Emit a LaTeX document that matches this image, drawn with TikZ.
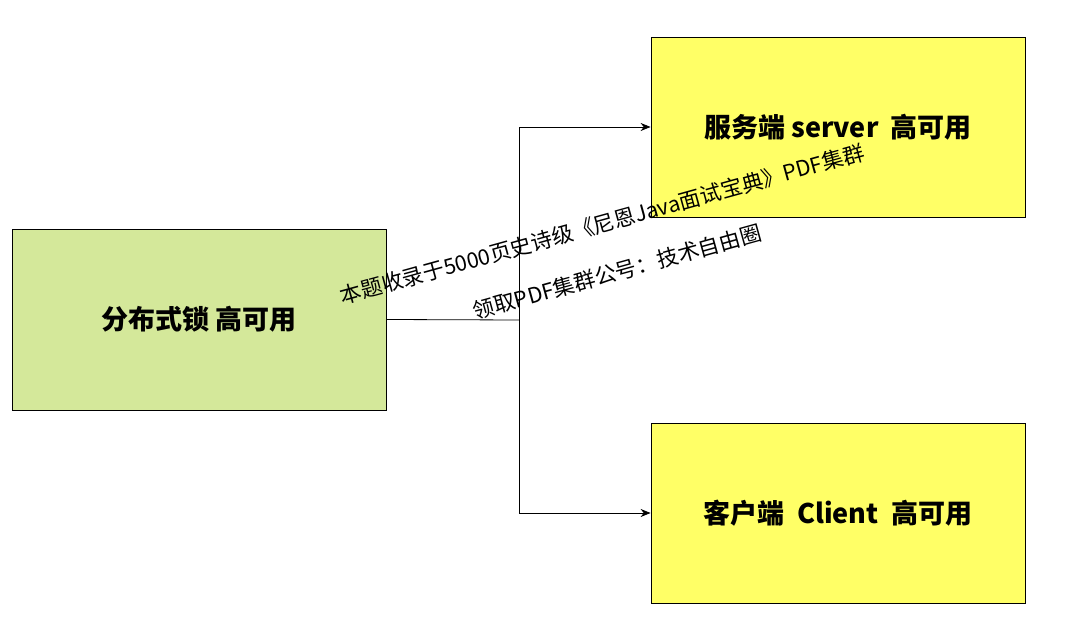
\documentclass[tikz,border=0pt]{standalone}
\usepackage{fontspec}
\setmainfont{Noto Sans CJK SC}
\usetikzlibrary{arrows.meta}
\begin{document}
\begin{tikzpicture}[x=1pt,y=-1pt,
 box/.style={draw=black,line width=0.8pt,inner sep=0pt,font=\bfseries\fontsize{27}{32}\selectfont},
 conn/.style={draw=black,line width=0.8pt,-{Stealth[length=10pt,width=8pt]}},
 wm/.style={rotate=15.5,font=\fontsize{21.5}{24}\selectfont,text=black,inner sep=0pt}]
\useasboundingbox (0,0) rectangle (1080,617);
\node[box,fill={rgb,255:red,212;green,232;blue,154},minimum width=374pt,minimum height=181pt] (L) at (199,319.5) {分布式锁 高可用};
\node[box,fill={rgb,255:red,255;green,255;blue,102},minimum width=374pt,minimum height=180pt] (S) at (838,127) {服务端 server\ \ 高可用};
\node[box,fill={rgb,255:red,255;green,255;blue,102},minimum width=374pt,minimum height=180pt] (C) at (838,513) {客户端\ \ Client\ \ 高可用};
\coordinate (J) at (519,320);
\draw[line width=0.8pt] (L.east) -- (J);
\draw[conn] (J) |- (S.west);
\draw[conn] (J) |- (C.west);
\node[wm] (w1) at (602,224) {本题收录于5000页史诗级《尼恩Java面试宝典》PDF集群};
\node[wm] (w2) at (617,272) {领取PDF集群公号：技术自由圈};
\end{tikzpicture}
\end{document}
